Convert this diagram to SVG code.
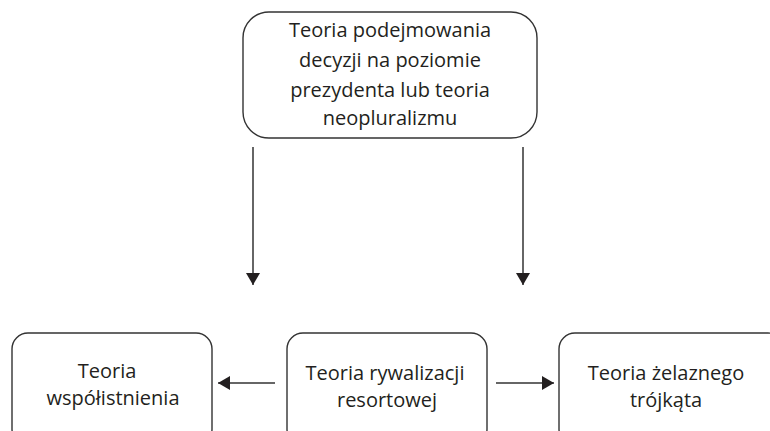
<svg xmlns="http://www.w3.org/2000/svg" width="770" height="431" viewBox="0 0 770 431">
  <style>
    .box { fill: #ffffff; stroke: #333333; stroke-width: 1.4; }
    .lbl { font-family: "Open Sans", "Noto Sans", sans-serif; font-size: 20px; fill: #231f20; text-anchor: middle; }
    .edge { stroke: #333333; stroke-width: 1.5; fill: none; }
  </style>
  <defs>
    <marker id="arrow" viewBox="0 0 12 14" refX="12" refY="7" markerWidth="12" markerHeight="14" markerUnits="userSpaceOnUse" orient="auto">
      <path d="M0,0 L12,7 L0,14 Z" fill="#231f20"/>
    </marker>
  </defs>
  <rect width="770" height="431" fill="#ffffff"/>

  <g id="node-top">
    <rect class="box" x="243" y="12" width="294" height="126" rx="26" ry="26"/>
    <text class="lbl" x="390" y="37">Teoria podejmowania</text>
    <text class="lbl" x="390" y="67">decyzji na poziomie</text>
    <text class="lbl" x="390" y="97">prezydenta lub teoria</text>
    <text class="lbl" x="390" y="125">neopluralizmu</text>
  </g>

  <g id="node-left">
    <rect class="box" x="12" y="333" width="200" height="112" rx="16" ry="16"/>
    <text class="lbl" x="107" y="378">Teoria</text>
    <text class="lbl" x="113" y="405">współistnienia</text>
  </g>

  <g id="node-middle">
    <rect class="box" x="287" y="333" width="200" height="112" rx="16" ry="16"/>
    <text class="lbl" x="385" y="380">Teoria rywalizacji</text>
    <text class="lbl" x="387" y="407">resortowej</text>
  </g>

  <g id="node-right">
    <rect class="box" x="559" y="333" width="225" height="112" rx="16" ry="16"/>
    <text class="lbl" x="666" y="380">Teoria żelaznego</text>
    <text class="lbl" x="666" y="407">trójkąta</text>
  </g>

  <g id="connectors">
    <line class="edge" x1="253" y1="147" x2="253" y2="285" marker-end="url(#arrow)"/>
    <line class="edge" x1="523" y1="147" x2="523" y2="285" marker-end="url(#arrow)"/>
    <line class="edge" x1="275" y1="383" x2="218" y2="383" marker-end="url(#arrow)"/>
    <line class="edge" x1="496" y1="383" x2="554" y2="383" marker-end="url(#arrow)"/>
  </g>
</svg>
